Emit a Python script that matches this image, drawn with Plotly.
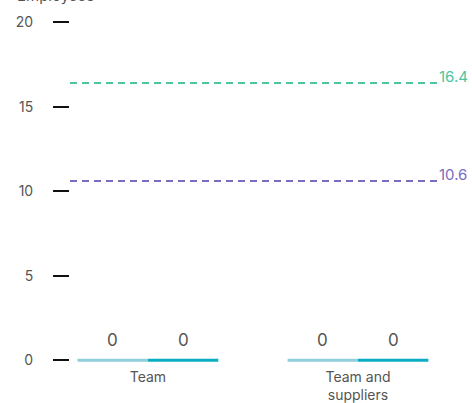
import plotly.graph_objects as go

categories = ["Team", "Team and<br>suppliers"]
series_names = ["Previous year", "Current year"]
series_values = [[0, 0], [0, 0]]
series_colors = ["#8fd0db", "#0badc4"]
ref_names = ["Target A", "Target B"]
ref_values = [16.4, 10.6]
ref_colors = ["#4dc49f", "#7a6cc0"]
y_ticks = [0, 5, 10, 15, 20]

FONT = "Inter, Roboto, sans-serif"

fig = go.Figure()

group_w = 0.67
bar_w = group_w / len(series_names)
for si, (name, vals, col) in enumerate(zip(series_names, series_values, series_colors)):
    for ci, v in enumerate(vals):
        x0 = ci - group_w / 2 + si * bar_w
        x1 = x0 + bar_w
        fig.add_trace(go.Scatter(
            x=[x0, x1], y=[v, v], mode="lines",
            line=dict(color=col, width=3), showlegend=False, hoverinfo="skip"))
        fig.add_annotation(
            x=(x0 + x1) / 2, y=v, text=str(v), showarrow=False,
            yanchor="bottom", yshift=8,
            font=dict(family=FONT, size=17, color="#555555"))

for name, v, col in zip(ref_names, ref_values, ref_colors):
    fig.add_shape(type="line", xref="paper", x0=0, x1=1, y0=v, y1=v,
                  line=dict(color=col, width=2, dash="7px,5px"))
    fig.add_annotation(xref="paper", x=1, y=v, text=str(v), showarrow=False,
                       xanchor="left", yanchor="bottom", yshift=-5, xshift=-1,
                       font=dict(family=FONT, size=15, color=col))

fig.add_annotation(xref="paper", yref="paper", x=-0.15, y=1, yshift=10,
                   text="Employees", showarrow=False, xanchor="left", yanchor="bottom",
                   font=dict(family=FONT, size=15, color="#555555"))

fig.update_layout(
    width=472, height=403,
    margin=dict(l=70, r=34, t=17, b=41, autoexpand=False),
    paper_bgcolor="white", plot_bgcolor="white",
    showlegend=False,
    xaxis=dict(range=[-0.371, 1.381], tickmode="array", tickvals=list(range(len(categories))),
               ticktext=categories, showgrid=False, zeroline=False, showline=False,
               ticks="", tickfont=dict(family=FONT, size=14, color="#555555"),
               ticklabelstandoff=5, fixedrange=True, automargin=False),
    yaxis=dict(range=[-0.1, 20.3], tickmode="array", tickvals=y_ticks,
               showgrid=False, zeroline=False, showline=False,
               ticks="outside", ticklen=16, tickwidth=1.5, tickcolor="#111111",
               tickfont=dict(family=FONT, size=14, color="#555555"),
               ticklabelstandoff=17, fixedrange=True, automargin=False),
)

fig.write_html("out.html", config={"displayModeBar": False},
               post_script="document.body.style.margin='0';document.body.style.overflow='hidden';")
